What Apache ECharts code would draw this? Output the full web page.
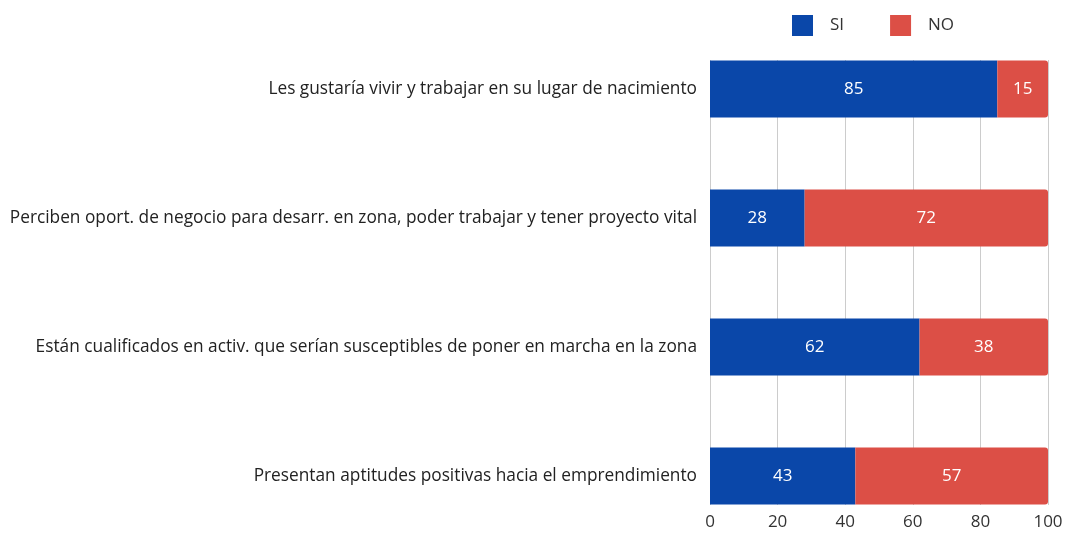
<!DOCTYPE html>
<html>
<head>
<meta charset="utf-8">
<script src="https://cdn.jsdelivr.net/npm/echarts@6/dist/echarts.min.js"></script>
<style>
  html, body { margin: 0; padding: 0; background: #fff; }
  #chart { width: 1067px; height: 533px; }
</style>
</head>
<body>
<div id="chart"></div>
<script>
// Survey answers (percent), one entry per statement
const categories = [
  'Les gustaría vivir y trabajar en su lugar de nacimiento',
  'Perciben oport. de negocio para desarr. en zona, poder trabajar y tener proyecto vital',
  'Están cualificados en activ. que serían susceptibles de poner en marcha en la zona',
  'Presentan aptitudes positivas hacia el emprendimiento'
];
const siValues = [85, 28, 62, 43];
const noValues = [15, 72, 38, 57];
const seriesNames = ['SI', 'NO'];
const axisTicks = [0, 20, 40, 60, 80, 100];

const FONT = '"Open Sans", "Noto Sans", sans-serif';
const BLUE = '#0a47a9';
const RED = '#dc4f46';
const FS = 17;

const chart = echarts.init(document.getElementById('chart'), null, { renderer: 'canvas' });

const valueLabel = {
  show: true,
  position: 'inside',
  color: '#ffffff',
  fontFamily: FONT,
  fontSize: FS
};

chart.setOption({
  animation: false,
  textStyle: { fontFamily: FONT },
  legend: {
    top: 10,
    left: 787,
    itemWidth: 21,
    itemHeight: 21,
    itemGap: 46,
    icon: 'rect',
    textStyle: { fontFamily: FONT, fontSize: FS, color: '#333', padding: [0, 0, 0, 12] },
    data: seriesNames
  },
  grid: [
    // bars: bands of 129px, bars centred in them
    { left: 710, right: 19, top: 24.5, height: 516, outerBoundsMode: 'none', containLabel: false },
    // gridlines and value axis labels
    { left: 710, right: 19, top: 60, height: 445, outerBoundsMode: 'none', containLabel: false }
  ],
  xAxis: [
    {
      gridIndex: 0, type: 'value', min: 0, max: 100, interval: 20,
      axisLabel: { show: false }, axisLine: { show: false },
      axisTick: { show: false }, splitLine: { show: false }
    },
    {
      gridIndex: 1, type: 'value',
      min: axisTicks[0], max: axisTicks[axisTicks.length - 1],
      interval: axisTicks[1] - axisTicks[0],
      axisLine: { show: false },
      axisTick: { show: false },
      axisLabel: { fontFamily: FONT, fontSize: FS, color: '#333', margin: 9 },
      splitLine: { show: true, lineStyle: { color: '#cccccc', width: 1 } }
    }
  ],
  yAxis: [
    {
      gridIndex: 0, type: 'category', data: categories, inverse: true,
      axisLine: { show: false }, axisTick: { show: false },
      axisLabel: { fontFamily: FONT, fontSize: 17.3, color: '#222', margin: 13 }
    },
    {
      gridIndex: 1, type: 'category', data: categories, show: false
    }
  ],
  series: [
    {
      name: seriesNames[0], type: 'bar', stack: 'total',
      xAxisIndex: 0, yAxisIndex: 0,
      barWidth: 57,
      itemStyle: { color: BLUE },
      label: valueLabel,
      data: siValues
    },
    {
      name: seriesNames[1], type: 'bar', stack: 'total',
      xAxisIndex: 0, yAxisIndex: 0,
      barWidth: 57,
      itemStyle: { color: RED, borderRadius: [0, 3, 3, 0] },
      label: valueLabel,
      data: noValues
    }
  ]
});
</script>
</body>
</html>
